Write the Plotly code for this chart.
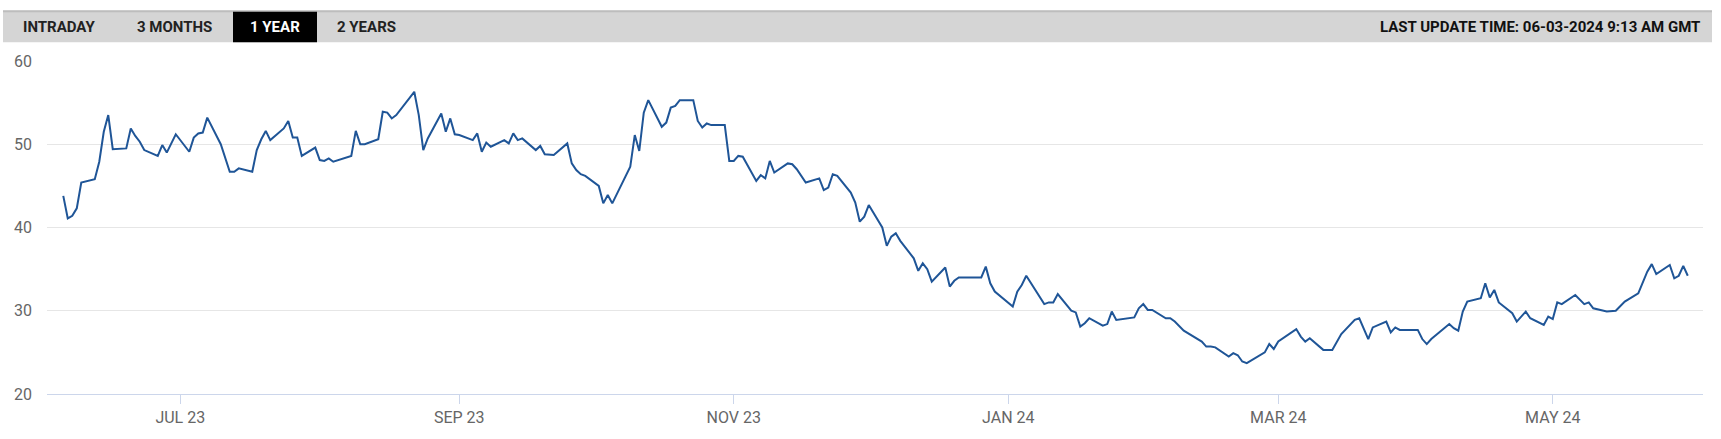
import plotly.graph_objects as go

# ---------------- data ----------------
dates = [
    "2023-06-05", "2023-06-06", "2023-06-07", "2023-06-08", "2023-06-09",
    "2023-06-12", "2023-06-13", "2023-06-14", "2023-06-15", "2023-06-16",
    "2023-06-19", "2023-06-20", "2023-06-21", "2023-06-22", "2023-06-23",
    "2023-06-26", "2023-06-27", "2023-06-28", "2023-06-30",
    "2023-07-03", "2023-07-04", "2023-07-05", "2023-07-06", "2023-07-07",
    "2023-07-10", "2023-07-12", "2023-07-13", "2023-07-14",
    "2023-07-17", "2023-07-18", "2023-07-19", "2023-07-20", "2023-07-21",
    "2023-07-24", "2023-07-25", "2023-07-26", "2023-07-27", "2023-07-28",
    "2023-07-31", "2023-08-01", "2023-08-02", "2023-08-03", "2023-08-04",
    "2023-08-08", "2023-08-09", "2023-08-10", "2023-08-11",
    "2023-08-14", "2023-08-15", "2023-08-16", "2023-08-17", "2023-08-18",
    "2023-08-22", "2023-08-23", "2023-08-24", "2023-08-25",
    "2023-08-28", "2023-08-29", "2023-08-30", "2023-08-31", "2023-09-01",
    "2023-09-04", "2023-09-05", "2023-09-06", "2023-09-07", "2023-09-08",
    "2023-09-11", "2023-09-12", "2023-09-13", "2023-09-14", "2023-09-15",
    "2023-09-18", "2023-09-19", "2023-09-20", "2023-09-22",
    "2023-09-25", "2023-09-26", "2023-09-27", "2023-09-28", "2023-09-29",
    "2023-10-02", "2023-10-03", "2023-10-04", "2023-10-05",
    "2023-10-09", "2023-10-10", "2023-10-11", "2023-10-12", "2023-10-13",
    "2023-10-16", "2023-10-17", "2023-10-18", "2023-10-19", "2023-10-20",
    "2023-10-23", "2023-10-24", "2023-10-25", "2023-10-26", "2023-10-27",
    "2023-10-30", "2023-10-31", "2023-11-01", "2023-11-02", "2023-11-03",
    "2023-11-06", "2023-11-07", "2023-11-08", "2023-11-09", "2023-11-10",
    "2023-11-13", "2023-11-14", "2023-11-15", "2023-11-17",
    "2023-11-20", "2023-11-21", "2023-11-22", "2023-11-23", "2023-11-24",
    "2023-11-27", "2023-11-28", "2023-11-29", "2023-11-30", "2023-12-01",
    "2023-12-04", "2023-12-05", "2023-12-06", "2023-12-07", "2023-12-08",
    "2023-12-11", "2023-12-12", "2023-12-13", "2023-12-14", "2023-12-15",
    "2023-12-18", "2023-12-19", "2023-12-20", "2023-12-21", "2023-12-22",
    "2023-12-26", "2023-12-27", "2023-12-28", "2023-12-29",
    "2024-01-02", "2024-01-03", "2024-01-04", "2024-01-05",
    "2024-01-09", "2024-01-10", "2024-01-11", "2024-01-12",
    "2024-01-15", "2024-01-16", "2024-01-17", "2024-01-18", "2024-01-19",
    "2024-01-22", "2024-01-23", "2024-01-24", "2024-01-25",
    "2024-01-29", "2024-01-30", "2024-01-31", "2024-02-01", "2024-02-02",
    "2024-02-05", "2024-02-06", "2024-02-07", "2024-02-09",
    "2024-02-13", "2024-02-14", "2024-02-15", "2024-02-16",
    "2024-02-19", "2024-02-20", "2024-02-21", "2024-02-22", "2024-02-23",
    "2024-02-27", "2024-02-28", "2024-02-29", "2024-03-01",
    "2024-03-05", "2024-03-06", "2024-03-07", "2024-03-08",
    "2024-03-11", "2024-03-12", "2024-03-13", "2024-03-15",
    "2024-03-18", "2024-03-19", "2024-03-21", "2024-03-22",
    "2024-03-25", "2024-03-26", "2024-03-27", "2024-03-28",
    "2024-04-01", "2024-04-02", "2024-04-03", "2024-04-04",
    "2024-04-08", "2024-04-09", "2024-04-10", "2024-04-11", "2024-04-12",
    "2024-04-15", "2024-04-16", "2024-04-17", "2024-04-18", "2024-04-19",
    "2024-04-22", "2024-04-23", "2024-04-25", "2024-04-26",
    "2024-04-29", "2024-04-30", "2024-05-01", "2024-05-02", "2024-05-03",
    "2024-05-06", "2024-05-08", "2024-05-09", "2024-05-10",
    "2024-05-13", "2024-05-15", "2024-05-17",
    "2024-05-20", "2024-05-22", "2024-05-23", "2024-05-24",
    "2024-05-27", "2024-05-28", "2024-05-29", "2024-05-30", "2024-05-31",
]

prices = [
    43.8, 41.1, 41.4, 42.3, 45.4,
    45.8, 47.9, 51.5, 53.5, 49.4,
    49.5, 51.9, 51.0, 50.3, 49.3,
    48.6, 49.9, 49.0, 51.2,
    49.1, 50.8, 51.3, 51.4, 53.2,
    50.0, 46.7, 46.7, 47.1,
    46.7, 49.3, 50.6, 51.6, 50.5,
    51.9, 52.8, 50.8, 50.8, 48.6,
    49.6, 48.1, 48.0, 48.3, 47.9,
    48.6, 51.6, 50.0, 50.0,
    50.6, 53.9, 53.8, 53.1, 53.5,
    56.3, 53.5, 49.3, 50.7,
    53.7, 51.5, 53.1, 51.2, 51.1,
    50.5, 51.3, 49.1, 50.2, 49.7,
    50.5, 50.1, 51.3, 50.5, 50.7,
    49.3, 49.8, 48.8, 48.7,
    50.1, 47.7, 46.9, 46.4, 46.2,
    45.0, 42.9, 43.9, 42.9,
    47.3, 51.1, 49.2, 53.8, 55.3,
    52.1, 52.6, 54.4, 54.6, 55.3,
    55.3, 52.8, 52.0, 52.5, 52.3,
    52.3, 48.0, 48.0, 48.6, 48.5,
    45.6, 46.3, 45.9, 48.0, 46.6,
    47.7, 47.6, 47.0, 45.4,
    45.9, 44.5, 44.8, 46.4, 46.2,
    44.2, 43.0, 40.7, 41.3, 42.7,
    40.0, 37.8, 38.9, 39.3, 38.4,
    36.3, 34.8, 35.7, 35.0, 33.5,
    35.2, 32.9, 33.6, 34.0, 34.0,
    34.0, 35.3, 33.3, 32.3,
    30.5, 32.3, 33.1, 34.2,
    30.8, 31.0, 31.0, 32.0,
    30.0, 29.8, 28.1, 28.5, 29.1,
    28.2, 28.4, 29.9, 28.9,
    29.2, 30.3, 30.8, 30.1, 30.1,
    29.1, 29.1, 28.7, 27.6,
    26.3, 25.7, 25.7, 25.6,
    24.5, 24.9, 24.65, 23.9, 23.7,
    25.0, 26.0, 25.4, 26.3,
    27.8, 26.9, 26.3, 26.7,
    25.3, 25.3, 25.3, 27.2,
    28.9, 29.1, 26.6, 28.0,
    28.7, 27.4, 28.0, 27.7,
    27.7, 26.6, 26.0, 26.6,
    28.4, 27.9, 27.6, 29.9, 31.1,
    31.5, 33.3, 31.6, 32.5, 31.0,
    29.7, 28.7, 29.9, 29.1,
    28.3, 29.3, 29.0, 31.0, 30.8,
    31.9, 30.8, 31.0, 30.3,
    29.9, 30.0, 31.1,
    32.1, 34.7, 35.6, 34.4,
    35.5, 33.9, 34.2, 35.4, 34.2,
]

x_tick_vals = ["2023-07-01", "2023-09-01", "2023-11-01",
               "2024-01-01", "2024-03-01", "2024-05-01"]
x_tick_text = ["JUL 23", "SEP 23", "NOV 23", "JAN 24", "MAR 24", "MAY 24"]
y_tick_vals = [20, 30, 40, 50, 60]
x_range = ["2023-06-01 09:13", "2024-06-03 09:13"]

tab_labels = ["INTRADAY", "3 MONTHS", "1 YEAR", "2 YEARS"]
active_tab = "1 YEAR"
update_text = "LAST UPDATE TIME: 06-03-2024 9:13 AM GMT"

# ---------------- layout geometry ----------------
W, H = 1721, 439
ML, MR, MT, MB = 47, 18, 61, 40
PW, PH = W - ML - MR, H - MT - MB


def px(x):
    return (x - ML) / PW


def py(y):
    return (H - MB - y) / PH


fig = go.Figure()
fig.add_trace(go.Scatter(
    x=dates, y=prices, mode="lines",
    line=dict(color="#1f5597", width=2),
    hoverinfo="x+y",
))

shapes = [
    # grey tab bar
    dict(type="rect", xref="paper", yref="paper",
         x0=px(3), x1=px(1712), y0=py(42), y1=py(10),
         fillcolor="#d5d5d5", line=dict(width=0), layer="above"),
    # thin darker top border
    dict(type="rect", xref="paper", yref="paper",
         x0=px(3), x1=px(1712), y0=py(11.5), y1=py(9.5),
         fillcolor="#bdbdbd", line=dict(width=0), layer="above"),
    # active tab
    dict(type="rect", xref="paper", yref="paper",
         x0=px(233), x1=px(317), y0=py(42), y1=py(11),
         fillcolor="#000000", line=dict(width=0), layer="above"),
]

tab_centers = [59.3, 174.1, 275.2, 366.8]
annotations = []
for lab, cx in zip(tab_labels, tab_centers):
    annotations.append(dict(
        text=lab, xref="paper", yref="paper", x=px(cx), y=py(26.5),
        xanchor="center", yanchor="middle", showarrow=False,
        font=dict(family="Roboto", size=15,
                  color="#ffffff" if lab == active_tab else "#222222",
                  weight="bold"),
    ))
annotations.append(dict(
    text=update_text, xref="paper", yref="paper", x=px(1702), y=py(26.5),
    xanchor="right", yanchor="middle", showarrow=False,
    font=dict(family="Roboto", size=15, color="#111111", weight="bold"),
))

fig.update_layout(
    width=W, height=H,
    margin=dict(l=ML, r=MR, t=MT, b=MB, pad=0),
    paper_bgcolor="#ffffff", plot_bgcolor="#ffffff",
    showlegend=False,
    shapes=shapes,
    annotations=annotations,
    xaxis=dict(
        type="date", range=x_range,
        tickmode="array", tickvals=x_tick_vals, ticktext=x_tick_text,
        showgrid=False, zeroline=False,
        showline=True, linecolor="#ccd6eb", linewidth=1,
        ticks="outside", ticklen=9, tickcolor="#ccd6eb", tickwidth=1,
        tickfont=dict(family="Roboto", size=16, color="#666666"),
        fixedrange=True,
    ),
    yaxis=dict(
        range=[20, 60], tickmode="array", tickvals=y_tick_vals,
        showgrid=True, gridcolor="#e6e6e6", gridwidth=1,
        zeroline=False, showline=False, ticks="",
        ticklabelstandoff=14,
        tickfont=dict(family="Roboto", size=16, color="#666666"),
        fixedrange=True,
    ),
)

fig.write_html("out.html")
